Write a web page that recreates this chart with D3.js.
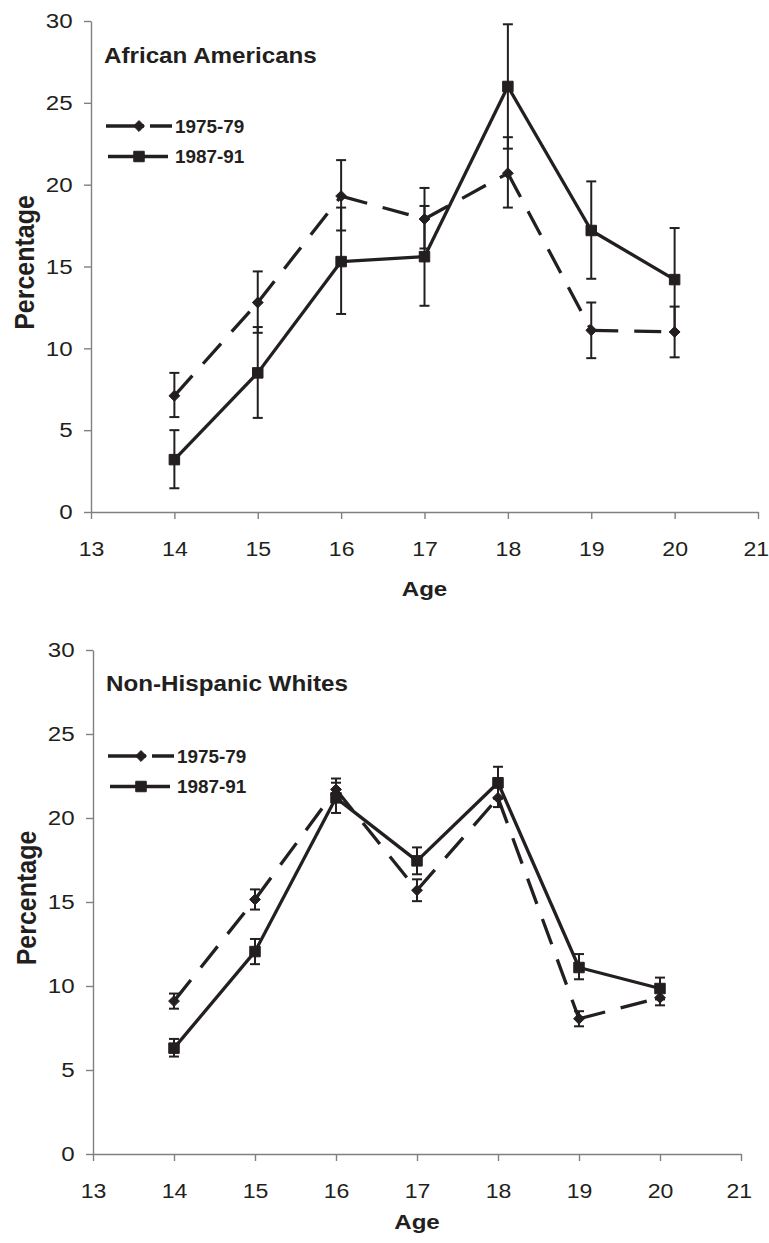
<!DOCTYPE html>
<html>
<head>
<meta charset="utf-8">
<script src="https://cdn.jsdelivr.net/npm/d3@7"></script>
<style>
  body { margin: 0; background: #fff; }
  svg { display: block; font-family: "Liberation Sans", Arial, sans-serif; }
  .axis path, .axis line { stroke: #808080; stroke-width: 1.4; }
  .axis text { fill: #231f20; font-size: 21px; }
</style>
</head>
<body>
<div id="chart"></div>
<script>
// ages on the x axis
const ages = [14, 15, 16, 17, 18, 19, 20];
const xTicks = [13, 14, 15, 16, 17, 18, 19, 20, 21];
const yTicks = [0, 5, 10, 15, 20, 25, 30];
const seriesNames = ["1975-79", "1987-91"];

// African Americans
const aa7579 = [7.1, 12.8, 19.3, 17.9, 20.7, 11.1, 11.0];
const aa7579Lo = [5.8, 10.95, 17.2, 16.1, 18.6, 9.4, 9.45];
const aa7579Hi = [8.5, 14.7, 21.5, 19.8, 22.9, 12.8, 12.55];
const aa8791 = [3.2, 8.5, 15.3, 15.6, 26.0, 17.2, 14.2];
const aa8791Lo = [1.45, 5.75, 12.1, 12.6, 22.2, 14.25, 11.0];
const aa8791Hi = [5.0, 11.3, 18.6, 18.7, 29.8, 20.2, 17.35];

// Non-Hispanic Whites
const nhw7579 = [9.1, 15.15, 21.7, 15.7, 21.2, 8.05, 9.3];
const nhw7579Lo = [8.65, 14.55, 21.1, 15.05, 20.65, 7.6, 8.85];
const nhw7579Hi = [9.55, 15.75, 22.35, 16.35, 21.8, 8.5, 9.7];
const nhw8791 = [6.3, 12.05, 21.2, 17.45, 22.1, 11.1, 9.85];
const nhw8791Lo = [5.8, 11.3, 20.3, 16.65, 21.15, 10.4, 9.2];
const nhw8791Hi = [6.85, 12.8, 22.1, 18.25, 23.05, 11.9, 10.5];

const ink = "#231f20";
const W = 769, H = 1243;

const svg = d3.select("#chart").append("svg")
    .attr("width", W)
    .attr("height", H);
svg.append("rect").attr("width", W).attr("height", H).attr("fill", "#fff");

// text is a bit wider than the plain font, stretch it horizontally
function stretchedText(g, x, y, str, size, sx, anchor) {
    return g.append("text")
        .attr("transform", `translate(${x},${y}) scale(${sx},1)`)
        .attr("text-anchor", anchor || "start")
        .attr("font-weight", "bold")
        .attr("font-size", size)
        .attr("fill", ink)
        .text(str);
}

function drawPanel(p) {
    const g = svg.append("g");
    const x = d3.scaleLinear().domain([13, 21]).range([p.x0, p.x1]);
    const y = d3.scaleLinear().domain([0, 30]).range([p.y0, p.y1]);

    g.append("g")
        .attr("class", "axis")
        .attr("transform", `translate(0,${p.y0})`)
        .call(d3.axisBottom(x).tickValues(xTicks).tickSize(7).tickSizeOuter(0))
        .selectAll("text")
        .attr("y", 29)
        .attr("transform", "scale(1.1,1)")
        .attr("x", d => d === 21 ? -2 : 0);

    g.append("g")
        .attr("class", "axis")
        .attr("transform", `translate(${p.x0},0)`)
        .call(d3.axisLeft(y).tickValues(yTicks).tickSize(7).tickSizeOuter(0))
        .selectAll("text")
        .attr("x", -16)
        .attr("transform", "scale(1.15,1)");

    const series = [
        {vals: p.a, lo: p.aLo, hi: p.aHi, dash: "27,16", shape: d3.symbolDiamond2, size: 75},
        {vals: p.b, lo: p.bLo, hi: p.bHi, dash: null, shape: d3.symbolSquare2, size: 140}
    ];

    // error bars
    series.forEach(s => {
        const eb = g.append("g").attr("stroke", ink).attr("stroke-width", 2);
        eb.selectAll("line.v").data(ages).join("line")
            .attr("x1", d => x(d)).attr("x2", d => x(d))
            .attr("y1", (d, i) => y(s.lo[i])).attr("y2", (d, i) => y(s.hi[i]));
        eb.selectAll("line.hi").data(ages).join("line")
            .attr("x1", d => x(d) - 5).attr("x2", d => x(d) + 5)
            .attr("y1", (d, i) => y(s.hi[i])).attr("y2", (d, i) => y(s.hi[i]));
        eb.selectAll("line.lo").data(ages).join("line")
            .attr("x1", d => x(d) - 5).attr("x2", d => x(d) + 5)
            .attr("y1", (d, i) => y(s.lo[i])).attr("y2", (d, i) => y(s.lo[i]));
    });

    // lines, each segment drawn on its own so the dash pattern restarts at every point
    const line = d3.line().x(d => x(d[0])).y(d => y(d[1]));
    series.forEach(s => {
        const pts = ages.map((a, i) => [a, s.vals[i]]);
        const segs = d3.pairs(pts);
        g.append("g").selectAll("path").data(segs).join("path")
            .attr("d", line)
            .attr("fill", "none")
            .attr("stroke", ink)
            .attr("stroke-width", 3.3)
            .attr("stroke-dasharray", s.dash);
    });

    // markers
    series.forEach(s => {
        g.append("g").selectAll("path").data(ages).join("path")
            .attr("transform", (d, i) => `translate(${x(d)},${y(s.vals[i])})`)
            .attr("d", d3.symbol(s.shape, s.size))
            .attr("fill", ink)
            .attr("stroke", ink)
            .attr("stroke-width", 1);
    });

    // panel title
    stretchedText(g, p.x0 + 13, p.titleY, p.title, 22, 1.1);

    // legend
    series.forEach((s, i) => {
        const ly = p.legY + i * 30.5;
        const lx0 = p.x0 + 15 + (i ? 2 : 0), lx1 = p.x0 + 81 - (i ? 4 : 0);
        g.append("line")
            .attr("x1", lx0).attr("x2", lx1)
            .attr("y1", ly).attr("y2", ly)
            .attr("stroke", ink)
            .attr("stroke-width", 3.3)
            .attr("stroke-dasharray", s.dash ? "38,6,30" : null);
        g.append("path")
            .attr("transform", `translate(${p.x0 + 48},${ly})`)
            .attr("d", d3.symbol(s.shape, s.size))
            .attr("fill", ink)
            .attr("stroke", ink);
        stretchedText(g, p.x0 + 84, ly + 6.5, seriesNames[i], 18, 1.05);
    });

    // axis titles
    stretchedText(g, (p.x0 + p.x1) / 2, p.ageY, "Age", 21, 1.15, "middle");
    g.append("text")
        .attr("transform", `translate(${p.x0 - 57},${(p.y0 + p.y1) / 2 - 4}) rotate(-90) scale(1,1.1)`)
        .attr("text-anchor", "middle")
        .attr("font-weight", "bold")
        .attr("font-size", 25)
        .attr("fill", ink)
        .text("Percentage");
}

drawPanel({
    x0: 91, x1: 758, y0: 512, y1: 21,
    title: "African Americans", titleY: 63, legY: 126, ageY: 596,
    a: aa7579, aLo: aa7579Lo, aHi: aa7579Hi,
    b: aa8791, bLo: aa8791Lo, bHi: aa8791Hi
});

drawPanel({
    x0: 93, x1: 741, y0: 1154, y1: 650,
    title: "Non-Hispanic Whites", titleY: 691, legY: 756, ageY: 1229,
    a: nhw7579, aLo: nhw7579Lo, aHi: nhw7579Hi,
    b: nhw8791, bLo: nhw8791Lo, bHi: nhw8791Hi
});
</script>
</body>
</html>
